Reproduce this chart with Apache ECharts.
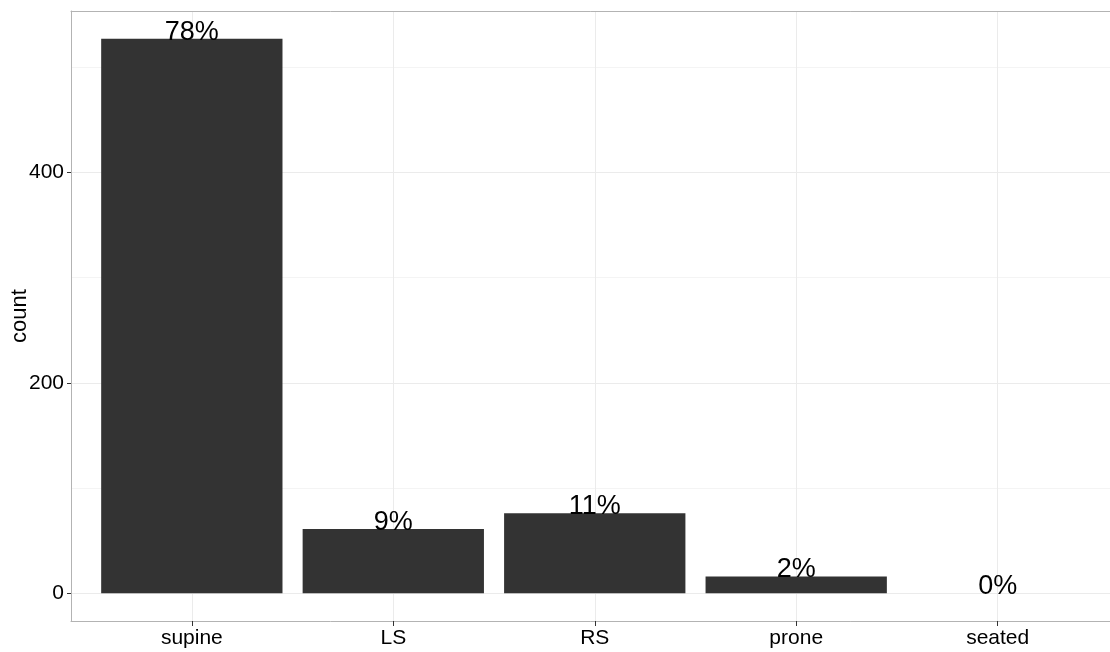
<!DOCTYPE html>
<html><head><meta charset="utf-8">
<script src="https://cdn.jsdelivr.net/npm/echarts@6/dist/echarts.min.js"></script>
<style>html,body{margin:0;padding:0;background:#fff}#c{width:1110px;height:652px}</style>
</head><body><div id="c"></div>
<script>
const categories = ['supine', 'LS', 'RS', 'prone', 'seated'];
const counts = [527, 61, 76, 16, 0];
const pctLabels = ['78%', '9%', '11%', '2%', '0%'];
const yTicks = [0, 200, 400];
const yMinorGrid = [100, 300, 500];
const yMin = -26.35, yMax = 553.35;

const font = '"Liberation Sans", Arial, sans-serif';
const chart = echarts.init(document.getElementById('c'), null, {renderer: 'canvas'});

const majorLine = {color: '#ebebeb', width: 1, type: 'solid'};
const minorLine = {color: '#f4f4f4', width: 1, type: 'solid'};
const borderLine = {show: true, onZero: false, lineStyle: {color: '#b3b3b3', width: 1}};

chart.setOption({
  animation: false,
  backgroundColor: '#fff',
  grid: [
    {left: 71, top: 11, width: 1047.5, height: 610, show: false, containLabel: false, outerBoundsMode: 'none'},
    {left: 91.1, top: 11, width: 1007.3, height: 610, containLabel: false, outerBoundsMode: 'none'}
  ],
  xAxis: [
    {gridIndex: 0, type: 'value', min: 0.4, max: 5.6, position: 'bottom',
      axisLine: borderLine, axisTick: {show: false}, axisLabel: {show: false}, splitLine: {show: false}},
    {gridIndex: 0, type: 'value', min: 0.4, max: 5.6, position: 'top',
      axisLine: borderLine, axisTick: {show: false}, axisLabel: {show: false}, splitLine: {show: false}},
    {gridIndex: 1, type: 'category', data: categories,
      axisLine: {show: false, onZero: false},
      axisTick: {show: true, alignWithLabel: true, length: 5, lineStyle: {color: '#333', width: 1}},
      axisLabel: {color: '#000', fontSize: 21, fontFamily: font, margin: 7},
      splitLine: {show: false}}
  ],
  yAxis: [
    {gridIndex: 0, type: 'value', min: yMin, max: yMax,
      name: 'count', nameLocation: 'middle', nameGap: 40, nameRotate: 90, nameMoveOverlap: false,
      nameTextStyle: {color: '#000', fontSize: 22, fontFamily: font},
      axisLine: borderLine,
      axisTick: {show: true, length: 4, customValues: yTicks, lineStyle: {color: '#333', width: 1}},
      axisLabel: {show: true, customValues: yTicks, color: '#000', fontSize: 21, fontFamily: font, margin: 7},
      splitLine: {show: false}},
    {gridIndex: 1, type: 'value', min: yMin, max: yMax, show: false}
  ],
  series: [
    {type: 'line', xAxisIndex: 0, yAxisIndex: 0, data: [], silent: true, z: 1,
      markLine: {silent: true, symbol: 'none', label: {show: false}, animation: false, z: 0,
        data: [
          ...yMinorGrid.map(v => ({yAxis: v, lineStyle: minorLine})),
          ...yTicks.map(v => ({yAxis: v, lineStyle: majorLine})),
          ...categories.map((c, i) => ({xAxis: i + 1, lineStyle: majorLine}))
        ]}},
    {type: 'bar', xAxisIndex: 2, yAxisIndex: 1, data: counts, barWidth: '90%', z: 3,
      itemStyle: {color: '#333333'},
      label: {show: true, position: 'top', distance: -7, color: '#000', fontSize: 27, fontFamily: font,
        formatter: p => pctLabels[p.dataIndex]}}
  ]
});
</script></body></html>
